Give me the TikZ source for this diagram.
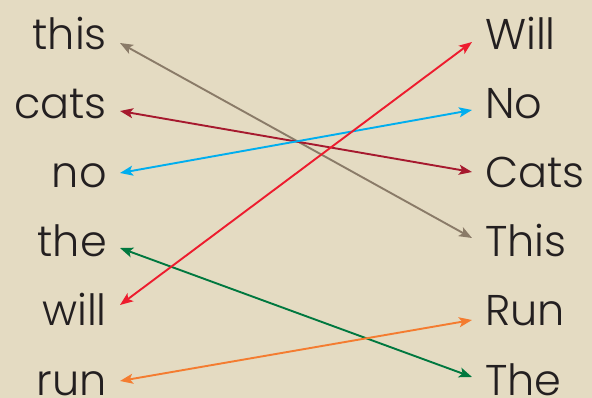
\documentclass[tikz,border=0pt]{standalone}
\usepackage{fontspec}
\setmainfont{Poppins}[UprightFont=* Light]
\usetikzlibrary{arrows.meta}
\definecolor{bg}{HTML}{E4DBC2}
\definecolor{txt}{HTML}{231F20}
\definecolor{cgray}{HTML}{8A7B68}
\definecolor{cdred}{HTML}{A6192E}
\definecolor{cblue}{HTML}{00AEEF}
\definecolor{cgreen}{HTML}{00783F}
\definecolor{cred}{HTML}{ED1C2E}
\definecolor{corange}{HTML}{F47C30}
\tikzset{
  word/.style={inner sep=0pt, text=txt, font=\fontsize{43}{43}\selectfont},
  lword/.style={word, anchor=base east},
  rword/.style={word, anchor=base west},
  link/.style={line width=1.9pt, {Stealth[length=13pt,width=10pt,inset=3pt]}-{Stealth[length=13pt,width=10pt,inset=3pt]}}
}
\begin{document}
\begin{tikzpicture}[x=1pt,y=-1pt]
\fill[bg] (0,0) rectangle (592,398);
\useasboundingbox (0,0) rectangle (592,398);
% left words
\node[lword] (l1) at (107,50) {this};
\node[lword] (l2) at (107,119) {cats};
\node[lword] (l3) at (107,188) {no};
\node[lword] (l4) at (107,257) {the};
\node[lword] (l5) at (107,326) {will};
\node[lword] (l6) at (107,395) {run};
% right words
\node[rword] (r1) at (485,50) {Will};
\node[rword] (r2) at (485,119) {No};
\node[rword] (r3) at (485,188) {Cats};
\node[rword] (r4) at (485,257) {This};
\node[rword] (r5) at (485,326) {Run};
\node[rword] (r6) at (485,395) {The};
% connectors
\draw[link, cgray]   ([shift={(13,-7)}]l1.base east) -- ([shift={(-13,-19)}]r4.base west);
\draw[link, cdred]   ([shift={(13,-8)}]l2.base east) -- ([shift={(-13,-16)}]r3.base west);
\draw[link, cblue]   ([shift={(13,-15)}]l3.base east) -- ([shift={(-13,-9)}]r2.base west);
\draw[link, cgreen]  ([shift={(13,-9)}]l4.base east) -- ([shift={(-13,-18)}]r6.base west);
\draw[link, cred]    ([shift={(13,-21)}]l5.base east) -- ([shift={(-13,-8)}]r1.base west);
\draw[link, corange] ([shift={(13,-14)}]l6.base east) -- ([shift={(-13,-6)}]r5.base west);
\end{tikzpicture}
\end{document}
